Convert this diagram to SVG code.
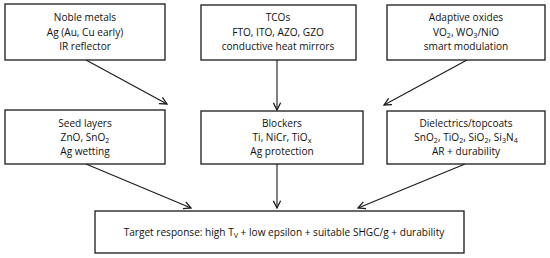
<svg xmlns="http://www.w3.org/2000/svg" width="550" height="258" viewBox="0 0 550 258">
<style>
.box{fill:#fff;stroke:#1a1a1a;stroke-width:1.3}
.t{font-family:"Open Sans","Noto Sans","DejaVu Sans",sans-serif;font-size:10.1px;fill:#111;text-anchor:middle}
.s{font-size:7.2px}
.c{stroke:#1a1a1a;stroke-width:1.1;fill:none;marker-end:url(#ah)}
</style>
<defs>
<marker id="ah" viewBox="0 0 10 10" refX="9" refY="5" markerWidth="9" markerHeight="9" markerUnits="userSpaceOnUse" orient="auto">
<path d="M1,1 L9,5 L1,9" fill="none" stroke="#1a1a1a" stroke-width="1.4"/>
</marker>
</defs>
<rect width="550" height="258" fill="#fff"/>
<g id="connectors">
<line class="c" x1="86" y1="60" x2="167" y2="104"/>
<line class="c" x1="277" y1="60" x2="277" y2="110"/>
<line class="c" x1="467" y1="60" x2="384" y2="105"/>
<line class="c" x1="86" y1="164" x2="191" y2="208"/>
<line class="c" x1="277" y1="164" x2="277" y2="208"/>
<line class="c" x1="465" y1="164" x2="358" y2="208"/>
</g>
<g id="noble">
<rect class="box" x="5" y="4" width="160" height="56"/>
<text class="t" x="85" y="21">Noble metals</text>
<text class="t" x="85" y="36">Ag (Au, Cu early)</text>
<text class="t" x="85" y="50">IR reflector</text>
</g>
<g id="tcos">
<rect class="box" x="201" y="5" width="155" height="55"/>
<text class="t" x="278" y="21">TCOs</text>
<text class="t" x="278" y="36">FTO, ITO, AZO, GZO</text>
<text class="t" x="278" y="50">conductive heat mirrors</text>
</g>
<g id="adaptive">
<rect class="box" x="387" y="5" width="158" height="55"/>
<text class="t" x="466" y="21">Adaptive oxides</text>
<text class="t" x="466" y="36">VO<tspan class="s" dy="2">2</tspan><tspan dy="-2">, WO</tspan><tspan class="s" dy="2">3</tspan><tspan dy="-2">/NiO</tspan></text>
<text class="t" x="466" y="50">smart modulation</text>
</g>
<g id="seed">
<rect class="box" x="5" y="110" width="160" height="54"/>
<text class="t" x="85" y="127">Seed layers</text>
<text class="t" x="85" y="141">ZnO, SnO<tspan class="s" dy="2">2</tspan></text>
<text class="t" x="85" y="155">Ag wetting</text>
</g>
<g id="blockers">
<rect class="box" x="201" y="111" width="162" height="53"/>
<text class="t" x="282" y="127">Blockers</text>
<text class="t" x="282" y="141">Ti, NiCr, TiO<tspan class="s" dy="2">x</tspan></text>
<text class="t" x="282" y="155">Ag protection</text>
</g>
<g id="dielectrics">
<rect class="box" x="387" y="111" width="158" height="53"/>
<text class="t" x="466" y="127">Dielectrics/topcoats</text>
<text class="t" x="466" y="141">SnO<tspan class="s" dy="2">2</tspan><tspan dy="-2">, TiO</tspan><tspan class="s" dy="2">2</tspan><tspan dy="-2">, SiO</tspan><tspan class="s" dy="2">2</tspan><tspan dy="-2">, Si</tspan><tspan class="s" dy="2">3</tspan><tspan dy="-2">N</tspan><tspan class="s" dy="2">4</tspan></text>
<text class="t" x="466" y="155">AR + durability</text>
</g>
<g id="target">
<rect class="box" x="95" y="211" width="369" height="42"/>
<text class="t" x="284" y="236">Target response: high T<tspan class="s" dy="2">V</tspan><tspan dy="-2"> + low epsilon + suitable SHGC/g + durability</tspan></text>
</g>
</svg>
